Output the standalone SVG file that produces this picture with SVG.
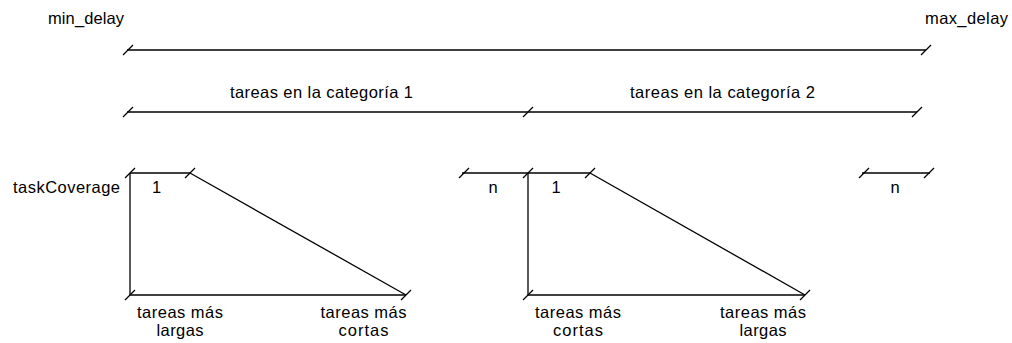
<svg xmlns="http://www.w3.org/2000/svg" xmlns:xlink="http://www.w3.org/1999/xlink" width="1012" height="343" viewBox="0 0 1012 343">
<style>
  .ln{stroke:#000;stroke-width:1.3;fill:none}
  .tk{stroke:#000;stroke-width:1.3;fill:none}
  text{font-family:"Liberation Sans",Arial,sans-serif;font-size:16.5px;fill:#000}
  .c{text-anchor:middle}
</style>
<defs>
  <path id="tick" class="tk" d="M-5,5 L5,-5"/>
</defs>
<rect width="1012" height="343" fill="#fff"/>

<g id="labels-top">
  <text x="48" y="24" textLength="76" lengthAdjust="spacing">min_delay</text>
  <text x="925" y="24" textLength="83" lengthAdjust="spacing">max_delay</text>
  <text x="230" y="98" textLength="183" lengthAdjust="spacing">tareas en la categoría 1</text>
  <text x="630" y="98" textLength="185" lengthAdjust="spacing">tareas en la categoría 2</text>
</g>

<g id="connectors">
  <line class="ln" x1="127" y1="50" x2="926" y2="50"/>
  <line class="ln" x1="127" y1="112" x2="917" y2="112"/>
  <!-- trapezoid 1 -->
  <line class="ln" x1="130" y1="173" x2="130" y2="295"/>
  <line class="ln" x1="130" y1="173" x2="190" y2="173"/>
  <line class="ln" x1="190" y1="173" x2="406" y2="295"/>
  <line class="ln" x1="130" y1="295" x2="406" y2="295"/>
  <!-- trapezoid 2 -->
  <line class="ln" x1="462" y1="173" x2="590" y2="173"/>
  <line class="ln" x1="528" y1="173" x2="528" y2="295"/>
  <line class="ln" x1="590" y1="173" x2="805" y2="295"/>
  <line class="ln" x1="528" y1="295" x2="805" y2="295"/>
  <!-- right segment -->
  <line class="ln" x1="862" y1="173" x2="930" y2="173"/>
  <!-- ticks -->
  <use xlink:href="#tick" x="128" y="50"/>
  <use xlink:href="#tick" x="926" y="50"/>
  <use xlink:href="#tick" x="128" y="112"/>
  <use xlink:href="#tick" x="528" y="112"/>
  <use xlink:href="#tick" x="917" y="112"/>
  <use xlink:href="#tick" x="130" y="173"/>
  <use xlink:href="#tick" x="190" y="173"/>
  <use xlink:href="#tick" x="130" y="295"/>
  <use xlink:href="#tick" x="406" y="295"/>
  <use xlink:href="#tick" x="464" y="173"/>
  <use xlink:href="#tick" x="528" y="173"/>
  <use xlink:href="#tick" x="590" y="173"/>
  <use xlink:href="#tick" x="528" y="295"/>
  <use xlink:href="#tick" x="805" y="295"/>
  <use xlink:href="#tick" x="864" y="173"/>
  <use xlink:href="#tick" x="929" y="173"/>
</g>

<g id="graph1">
  <text x="13" y="193" textLength="107" lengthAdjust="spacing">taskCoverage</text>
  <text class="c" x="156.5" y="193">1</text>
  <text class="c" x="180" y="318" textLength="86" lengthAdjust="spacing">tareas más</text>
  <text class="c" x="180" y="336" textLength="47" lengthAdjust="spacing">largas</text>
  <text class="c" x="363.5" y="318" textLength="86" lengthAdjust="spacing">tareas más</text>
  <text class="c" x="363.5" y="336" textLength="50" lengthAdjust="spacing">cortas</text>
</g>

<g id="graph2">
  <text class="c" x="493" y="193">n</text>
  <text class="c" x="556" y="193">1</text>
  <text class="c" x="578" y="318" textLength="86" lengthAdjust="spacing">tareas más</text>
  <text class="c" x="578" y="336" textLength="50" lengthAdjust="spacing">cortas</text>
  <text class="c" x="763" y="318" textLength="86" lengthAdjust="spacing">tareas más</text>
  <text class="c" x="763" y="336" textLength="47" lengthAdjust="spacing">largas</text>
</g>

<g id="segment-n">
  <text class="c" x="895" y="193">n</text>
</g>
</svg>
